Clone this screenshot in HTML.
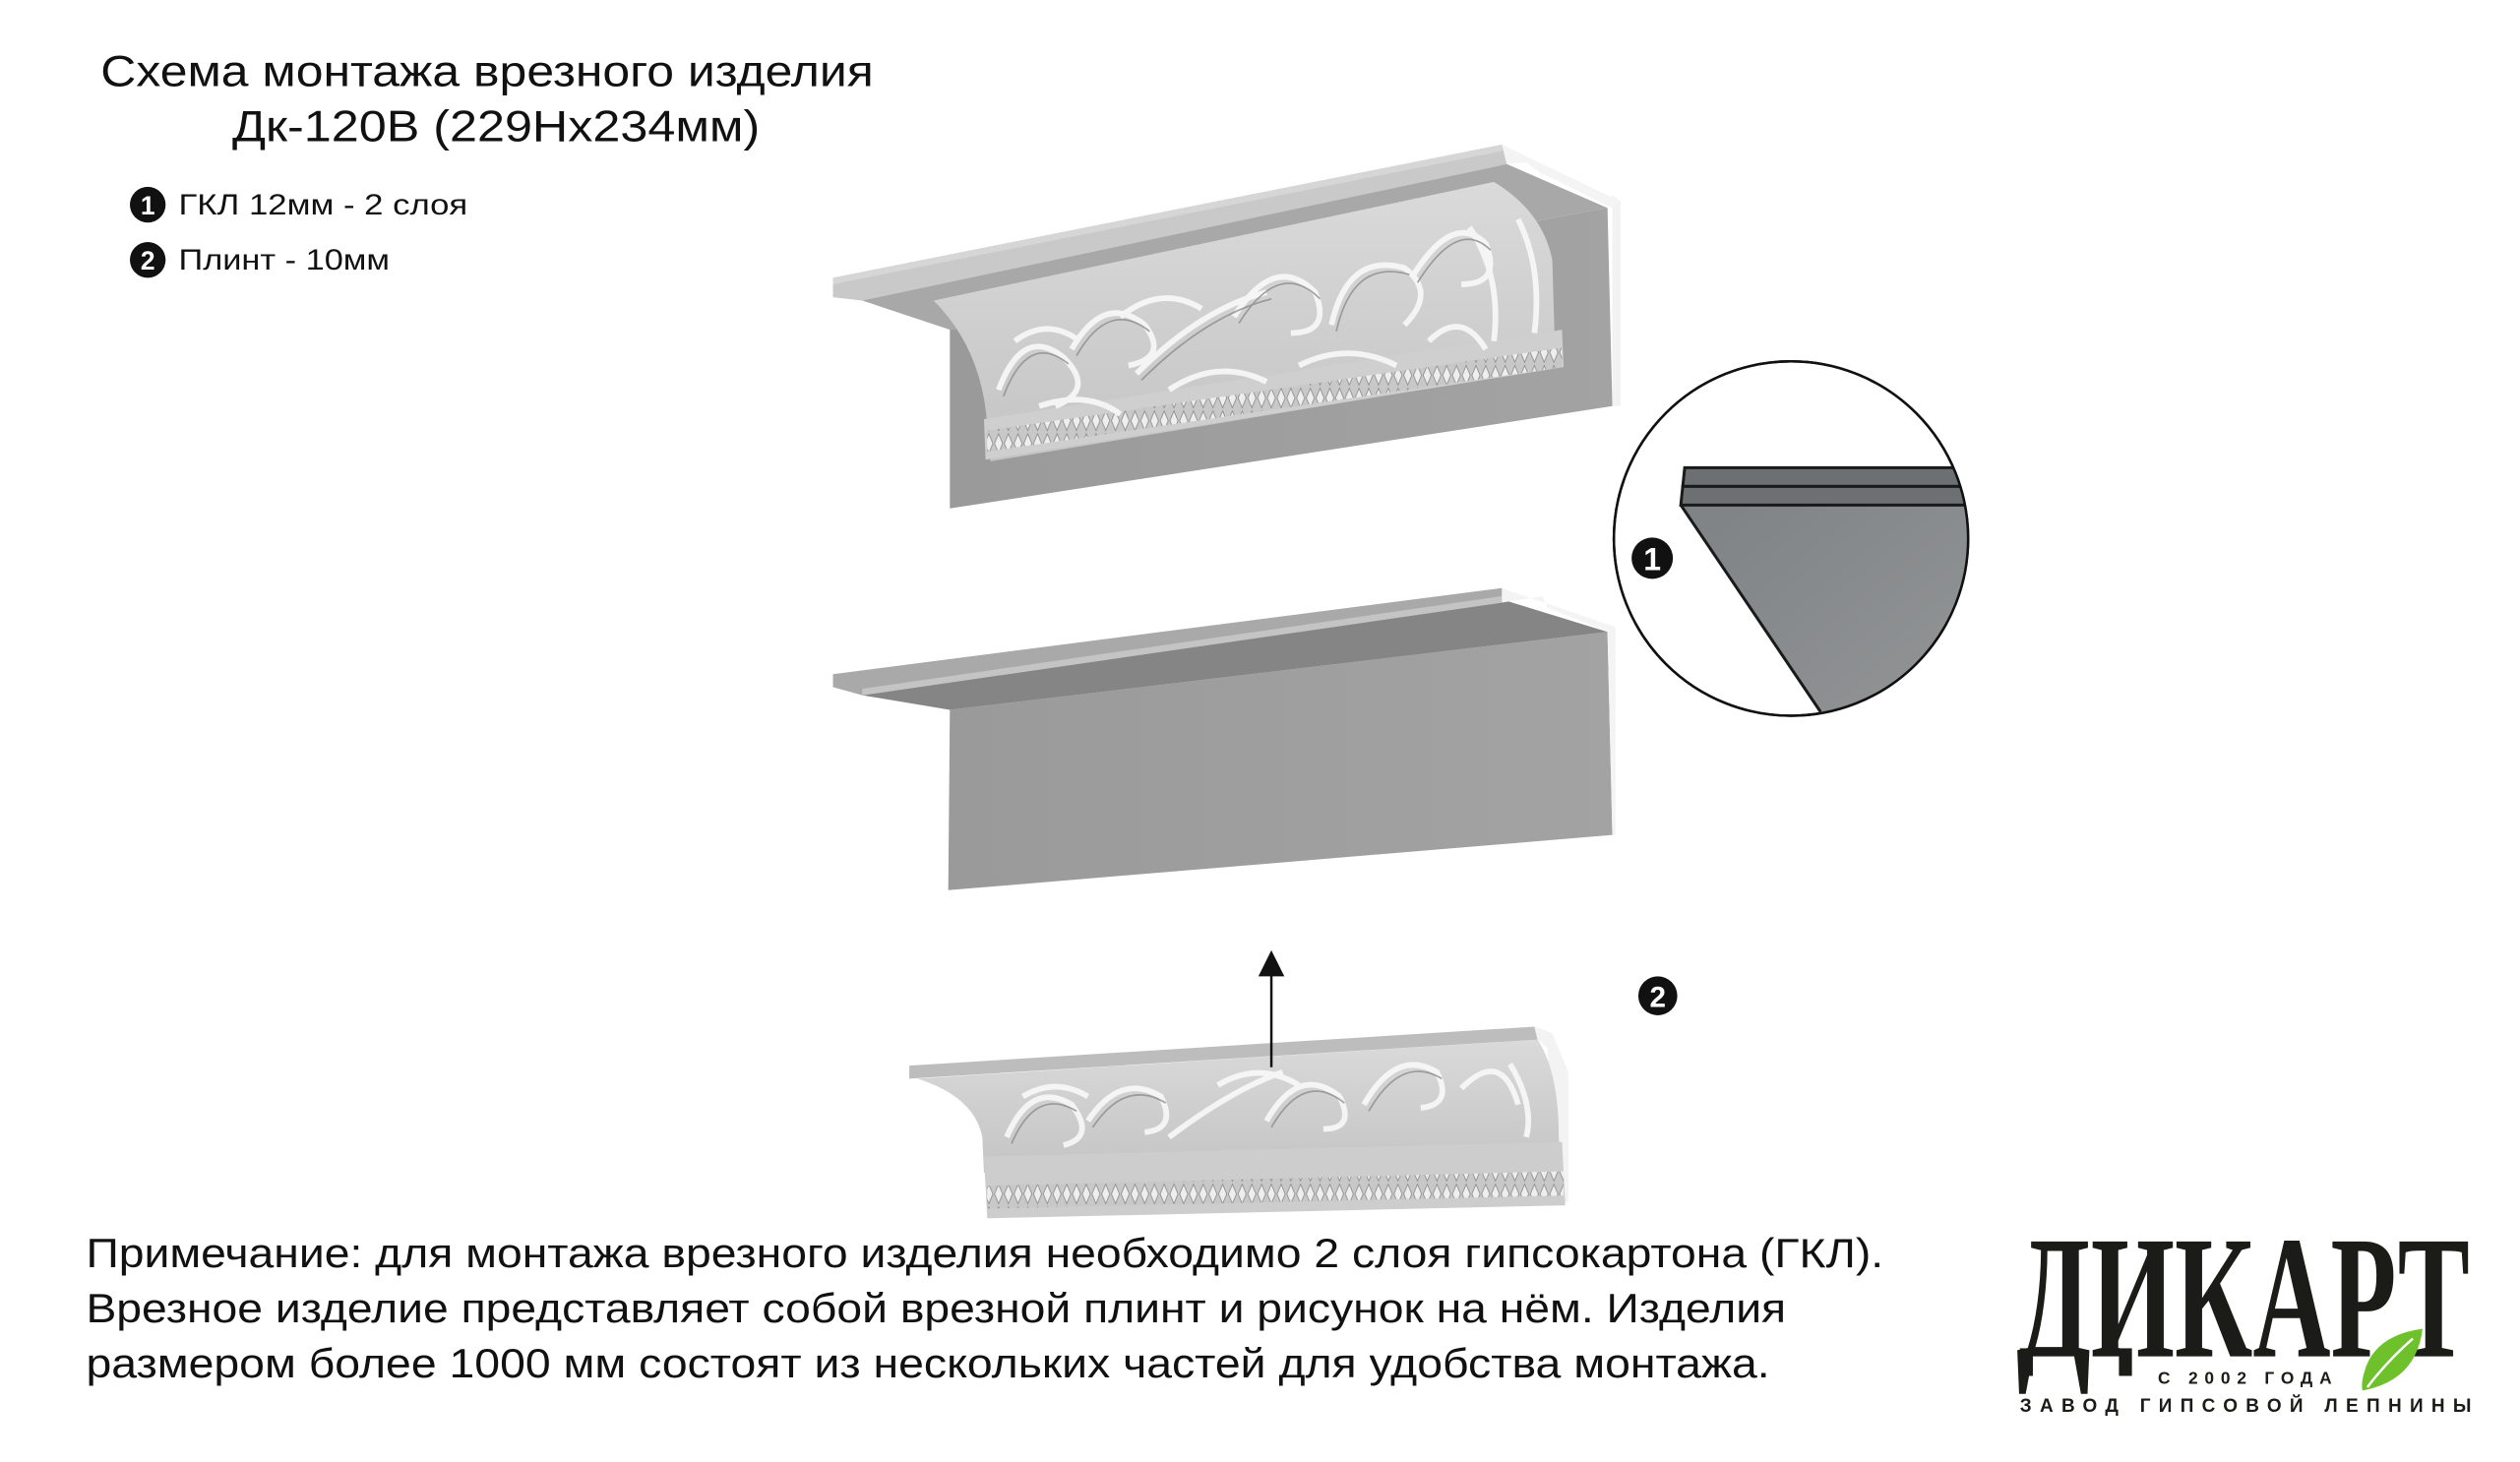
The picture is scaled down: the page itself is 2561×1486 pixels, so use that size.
<!DOCTYPE html>
<html><head><meta charset="utf-8"><style>
html,body{margin:0;padding:0;background:#fff;}
svg{display:block;}
</style></head><body>
<svg width="2561" height="1486" viewBox="0 0 1552 900" preserveAspectRatio="none" xmlns="http://www.w3.org/2000/svg">
<defs>
<linearGradient id="plate" x1="0" y1="0" x2="1" y2="0"><stop offset="0" stop-color="#9a9a9a"/><stop offset="1" stop-color="#a3a3a3"/></linearGradient>
<linearGradient id="orn" x1="0" y1="0" x2="0" y2="1"><stop offset="0" stop-color="#dadada"/><stop offset="1" stop-color="#c4c4c4"/></linearGradient>
<pattern id="dent" width="6" height="14" patternUnits="userSpaceOnUse"><rect width="6" height="14" fill="#c8c8c8"/><path d="M3 1 L5.5 7 L3 13 L0.5 7 Z" fill="#eeeeee" stroke="#8a8a8a" stroke-width="0.5"/></pattern>
<linearGradient id="circ" x1="0" y1="0" x2="1" y2="1"><stop offset="0" stop-color="#7e8284"/><stop offset="1" stop-color="#959798"/></linearGradient>
</defs>

<g font-family="'Liberation Sans','DejaVu Sans',sans-serif" fill="#111">
<text x="62" y="53" font-size="27" textLength="476" lengthAdjust="spacingAndGlyphs">Схема монтажа врезного изделия</text>
<text x="143" y="87" font-size="27" textLength="325" lengthAdjust="spacingAndGlyphs">Дк-120В (229Нх234мм)</text>
<circle cx="91" cy="126" r="11" fill="#111"/><text x="91" y="132" font-size="16" font-weight="bold" fill="#fff" text-anchor="middle">1</text>
<text x="110" y="132" font-size="18" textLength="178" lengthAdjust="spacingAndGlyphs">ГКЛ 12мм - 2 слоя</text>
<circle cx="91" cy="160" r="11" fill="#111"/><text x="91" y="166" font-size="16" font-weight="bold" fill="#fff" text-anchor="middle">2</text>
<text x="110" y="166" font-size="18" textLength="130" lengthAdjust="spacingAndGlyphs">Плинт - 10мм</text>
</g>

<!-- top piece -->
<polygon points="585,203 990,128 993,250 585,313" fill="url(#plate)"/>
<polygon points="993,120 998,124 998,250 993,250" fill="#f2f2f2"/>
<polygon points="513,171 925,89 928,101 531,185 513,183" fill="#c9c9c9"/>
<polygon points="513,171 925,89 925,93 513,175" fill="#d6d6d6"/>
<polygon points="925,89 998,124 993,128 948,106 940,100 928,101" fill="#f4f4f4"/>
<polygon points="531,185 928,101 990,128 585,203" fill="#a8a8a8"/>
<path d="M575,185 L920,112 Q950,130 956,160 L958,226 L610,284 L608,262 Q605,215 575,185 Z" fill="url(#orn)"/>
<polygon points="606,258 962,203 963,226 607,283" fill="#cfcfcf"/>
<polygon points="608,265 962,214 962,226 608,278" fill="url(#dent)"/>
<g fill="none" stroke="#f7f7f7" stroke-width="3.5" opacity="0.95">
<path d="M615,240 q15,-40 40,-20 q20,20 -5,30"/><path d="M660,215 q20,-35 45,-15 q15,20 -10,25"/>
<path d="M700,230 q40,-40 80,-50"/><path d="M760,195 q25,-40 50,-15 q10,25 -15,25"/>
<path d="M820,200 q10,-45 45,-35 q20,15 0,35"/><path d="M870,170 q25,-40 45,-20 q10,25 -15,25"/>
<path d="M905,140 q20,30 15,70"/><path d="M935,135 q15,30 10,70"/>
<path d="M640,250 q30,-10 50,5"/><path d="M720,240 q30,-20 60,-5"/><path d="M800,225 q30,-15 60,0"/>
<path d="M625,210 q20,-15 40,0"/><path d="M690,195 q25,-20 50,-5"/><path d="M880,210 q20,-20 35,5"/>
</g>
<g fill="none" stroke="#8c8c8c" stroke-width="1" opacity="0.8">
<path d="M618,244 q15,-40 40,-20"/><path d="M663,219 q20,-35 45,-15"/><path d="M763,199 q25,-40 50,-15"/><path d="M823,204 q10,-45 45,-35"/><path d="M873,174 q25,-40 45,-20"/><path d="M703,234 q40,-40 80,-50"/>
</g>

<!-- middle piece -->
<polygon points="585,437 990,389 993,514 584,548" fill="url(#plate)"/>
<polygon points="990,389 995,386 995,514 993,514" fill="#f4f4f4"/>
<polygon points="531,428 925,369 990,389 585,437" fill="#858585"/>
<polygon points="513,415 925,362 925,371 531,428 513,423" fill="#a9a9a9"/>
<polygon points="531,424 925,367 925,371 531,428" fill="#c4c4c4"/>
<polygon points="925,362 995,386 990,389 953,374 950,367 925,371" fill="#f4f4f4"/>

<!-- circle detail -->
<g transform="scale(0.60606)">
<circle cx="1820" cy="547" r="180" fill="#fff" stroke="#111" stroke-width="2.5"/>
<clipPath id="cc"><circle cx="1820" cy="547" r="179"/></clipPath>
<g clip-path="url(#cc)" stroke="#1a1a1a" stroke-width="3">
<polygon points="1708,513 2010,513 2010,760 1850,723" fill="url(#circ)" stroke="none"/>
<line x1="1708" y1="513" x2="1850" y2="723"/>
<polygon points="1712,475 2010,475 2010,494 1710,494" fill="#6c7072"/>
<polygon points="1710,494 2010,494 2010,513 1708,513" fill="#6c7072"/>
</g>
<circle cx="1820" cy="547" r="180" fill="none" stroke="#111" stroke-width="2.5"/>
<circle cx="1679" cy="567" r="21" fill="#111"/>
<text x="1679" y="579" font-family="'Liberation Sans',sans-serif" font-size="32" font-weight="bold" fill="#fff" text-anchor="middle">1</text>
</g>

<!-- bottom piece -->
<polygon points="560,656 945,632 947,640 560,664" fill="#bdbdbd"/>
<polygon points="945,632 956,636 966,660 966,740 958,740 953,645 947,640" fill="#f3f3f3"/>
<path d="M565,664 L947,640 Q960,660 960,700 L961,712 L606,722 L605,700 Q600,675 565,664 Z" fill="url(#orn)"/>
<polygon points="606,712 962,703 964,742 608,750" fill="#cdcdcd"/>
<polygon points="608,730 963,721 963,736 608,744" fill="url(#dent)"/>
<g fill="none" stroke="#f7f7f7" stroke-width="3.5" opacity="0.95">
<path d="M620,700 q15,-35 40,-20 q15,20 -5,25"/><path d="M670,690 q20,-30 45,-15 q10,20 -10,22"/>
<path d="M720,700 q40,-30 70,-40"/><path d="M780,690 q20,-35 45,-15 q10,20 -10,20"/>
<path d="M840,680 q20,-35 45,-20 q10,20 -10,22"/><path d="M900,670 q25,-25 35,10"/><path d="M930,655 q15,25 10,45"/>
<path d="M630,675 q20,-12 40,0"/><path d="M750,668 q25,-15 50,0"/>
</g>
<g fill="none" stroke="#8c8c8c" stroke-width="1" opacity="0.8">
<path d="M623,704 q15,-35 40,-20"/><path d="M673,694 q20,-30 45,-15"/><path d="M783,694 q20,-35 45,-15"/><path d="M843,684 q20,-35 45,-20"/>
</g>

<!-- arrow -->
<line x1="783" y1="657" x2="783" y2="598" stroke="#111" stroke-width="1.5"/>
<polygon points="775,601 791,601 783,585" fill="#111"/>
<circle cx="1021" cy="613" r="12" fill="#111"/>
<text x="1021" y="620" font-family="'Liberation Sans',sans-serif" font-size="18" font-weight="bold" fill="#fff" text-anchor="middle">2</text>

<!-- note -->
<g font-family="'Liberation Sans','DejaVu Sans',sans-serif" font-size="25" fill="#111">
<text x="53" y="780" textLength="1107" lengthAdjust="spacingAndGlyphs">Примечание: для монтажа врезного изделия необходимо 2 слоя гипсокартона (ГКЛ).</text>
<text x="53" y="814" textLength="1047" lengthAdjust="spacingAndGlyphs">Врезное изделие представляет собой врезной плинт и рисунок на нём. Изделия</text>
<text x="53" y="848" textLength="1037" lengthAdjust="spacingAndGlyphs">размером более 1000 мм состоят из нескольких частей для удобства монтажа.</text>
</g>

<!-- logo -->
<g fill="#1b1b17">
<text x="1242" y="835" font-family="'Liberation Serif','DejaVu Serif',serif" font-weight="bold" font-size="108" textLength="279" lengthAdjust="spacingAndGlyphs">ДИКАРТ</text>
<rect x="1244" y="830" width="8" height="17"/><rect x="1305" y="830" width="8" height="17"/>
<text x="1329" y="852" font-family="'Liberation Sans',sans-serif" font-weight="bold" font-size="10.5" textLength="107" lengthAdjust="spacing">С 2002 ГОДА</text>
<text x="1244" y="869" font-family="'Liberation Sans',sans-serif" font-weight="bold" font-size="11.5" textLength="278" lengthAdjust="spacing">ЗАВОД ГИПСОВОЙ ЛЕПНИНЫ</text>
</g>
<path d="M1492,818 Q1462,822 1456,845 Q1454,852 1455,856 Q1488,850 1492,818 Z" fill="#6ec12b"/>
<path d="M1458,854 Q1470,838 1486,824" stroke="#fff" stroke-width="1.5" fill="none"/>
</svg>
</body></html>
